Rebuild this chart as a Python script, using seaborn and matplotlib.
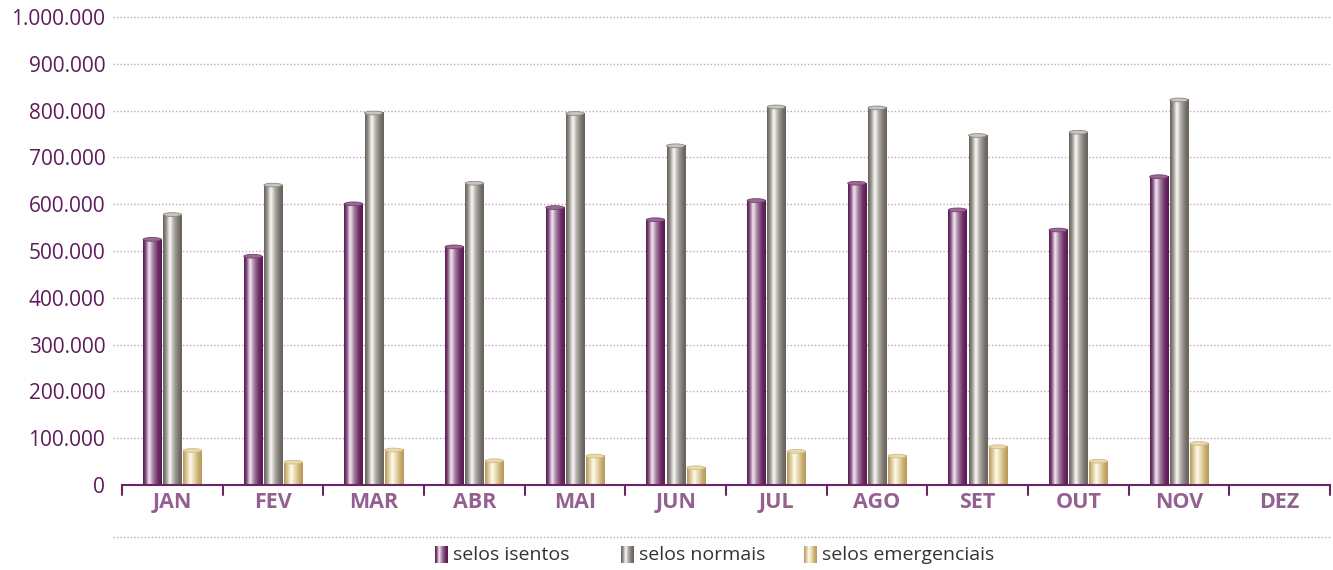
import numpy as np
import pandas as pd
import matplotlib
matplotlib.use("Agg")
import matplotlib.pyplot as plt
import seaborn as sns
from matplotlib.colors import LinearSegmentedColormap
from matplotlib.patches import Ellipse
from matplotlib.lines import Line2D
from matplotlib.ticker import FuncFormatter, MultipleLocator

months = ["JAN", "FEV", "MAR", "ABR", "MAI", "JUN", "JUL", "AGO", "SET", "OUT", "NOV", "DEZ"]
series_names = ["selos isentos", "selos normais", "selos emergenciais"]
isentos = [525000, 489000, 601000, 509000, 593000, 567000, 608000, 645000, 588000, 545000, 659000, np.nan]
normais = [578000, 641000, 795000, 645000, 794000, 725000, 808000, 806000, 747000, 754000, 823000, np.nan]
emergenciais = [74000, 49000, 75000, 52000, 62000, 37000, 72000, 62000, 82000, 51000, 89000, np.nan]

PURPLE = "#6b2466"
TICK_PURPLE = "#5f1b5b"
LABEL_PURPLE = "#93608f"
GRID = "#c9a3c4"

# cylinder shading: dark edge -> highlight -> dark edge
cmaps = {
    "selos isentos": LinearSegmentedColormap.from_list(
        "p", [(0, "#561a50"), (0.12, "#7a4675"), (0.32, "#f3e8f1"), (0.55, "#a07b9c"),
              (0.8, "#6d2d66"), (1, "#561a50")]),
    "selos normais": LinearSegmentedColormap.from_list(
        "g", [(0, "#67625c"), (0.14, "#8f8a84"), (0.36, "#fbfaf7"), (0.6, "#a8a49f"),
              (0.85, "#75706a"), (1, "#67625c")]),
    "selos emergenciais": LinearSegmentedColormap.from_list(
        "y", [(0, "#b99a5a"), (0.14, "#d2bd8a"), (0.38, "#fffcea"), (0.62, "#e3d3a6"),
              (0.85, "#c4a86a"), (1, "#b99a5a")]),
}
base_colors = {"selos isentos": "#7a3d74", "selos normais": "#8c8781", "selos emergenciais": "#d3bc86"}
cap_colors = {"selos isentos": "#9a6a95", "selos normais": "#c9c6c1", "selos emergenciais": "#e8d9ae"}

df = pd.DataFrame({
    "mes": months * 3,
    "valor": isentos + normais + emergenciais,
    "serie": [s for s in series_names for _ in months],
})

sns.set_theme(style="white")
plt.rcParams["font.family"] = ["Open Sans", "DejaVu Sans"]

fig = plt.figure(figsize=(13.33, 5.7), dpi=100)
ax = fig.add_axes([0.0915, 0.149, 0.9062, 0.821])

sns.barplot(data=df, x="mes", y="valor", hue="serie", order=months, hue_order=series_names,
            palette=base_colors, width=0.6, gap=0.1, ax=ax, legend=False, linewidth=0)

grad = np.linspace(0, 1, 64).reshape(1, -1)
for serie, container in zip(series_names, ax.containers):
    for p in container:
        h = p.get_height()
        if not np.isfinite(h) or h <= 0:
            continue
        x0, w = p.get_x(), p.get_width()
        ax.imshow(grad, extent=[x0, x0 + w, 0, h], aspect="auto", cmap=cmaps[serie],
                  zorder=3, interpolation="bilinear")
        ax.add_patch(Ellipse((x0 + w / 2, h), w, 8000, facecolor=cap_colors[serie],
                             edgecolor=base_colors[serie], linewidth=0.6, zorder=4))

ax.set_xlim(-0.5, len(months) - 0.5)
ax.set_ylim(0, 1000000)
ax.yaxis.set_major_locator(MultipleLocator(100000))
ax.yaxis.set_major_formatter(FuncFormatter(lambda v, _: f"{int(v):,}".replace(",", ".")))

# dotted gridlines reaching a little left of the axis
for yv in np.arange(100000, 1000001, 100000):
    ax.axhline(yv, xmin=-0.0075, xmax=1, color=GRID, linestyle=(0, (1, 1.5)),
               linewidth=1, clip_on=False, zorder=1)

for s in ["left", "right", "top"]:
    ax.spines[s].set_visible(False)
ax.spines["bottom"].set_color(PURPLE)
ax.spines["bottom"].set_linewidth(1.5)
ax.spines["bottom"].set_zorder(5)

# boundary ticks between months
for b in np.arange(-0.5, len(months), 1.0):
    ax.plot([b, b], [0, -0.022], transform=ax.get_xaxis_transform(), color=PURPLE,
            linewidth=1.5, clip_on=False)

ax.tick_params(axis="x", length=0, pad=5, labelsize=15.5, labelcolor=LABEL_PURPLE)
ax.tick_params(axis="y", length=0, pad=12, labelsize=15, labelcolor=TICK_PURPLE)
for t in ax.get_xticklabels():
    t.set_fontweight("bold")
ax.set_xlabel("")
ax.set_ylabel("")

# separator line above legend
fig.add_artist(Line2D([113 / 1333, 1330 / 1333], [1 - 537 / 570] * 2, color=GRID,
                      linestyle=(0, (1, 1.5)), linewidth=1))

# legend with shaded swatches
leg_x = [435, 621, 804]
for name, lx in zip(series_names, leg_x):
    sax = fig.add_axes([lx / 1333, 1 - 563 / 570, 13 / 1333, 17 / 570])
    sax.imshow(grad, aspect="auto", cmap=cmaps[name], extent=[0, 1, 0, 1])
    sax.set_axis_off()
    fig.text((lx + 18) / 1333, 1 - 555 / 570, name, fontsize=14, color="#333333",
             va="center", ha="left")

fig.savefig("out.png", dpi=100)
